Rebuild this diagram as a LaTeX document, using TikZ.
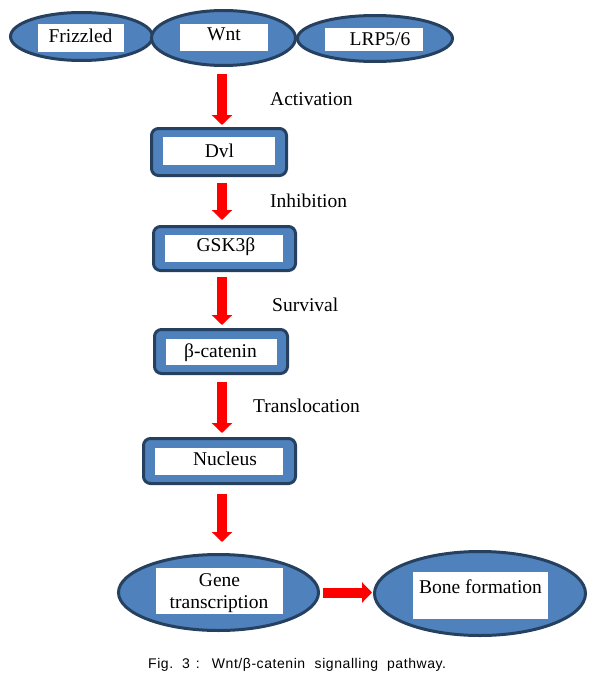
\documentclass[tikz,border=0pt]{standalone}
\usepackage{fontspec}
\setmainfont{Liberation Serif}
\newfontfamily\capfont[LetterSpace=4]{Liberation Sans}
\usetikzlibrary{shapes.geometric,arrows.meta}
\definecolor{fillblue}{HTML}{4F81BD}
\definecolor{edgeblue}{HTML}{26415F}
\tikzset{
  oval/.style={ellipse, draw=edgeblue, fill=fillblue, line width=3pt, inner sep=0pt, outer sep=0pt},
  roundbox/.style={rectangle, rounded corners=7pt, draw=edgeblue, fill=fillblue, line width=3pt, inner sep=0pt, outer sep=0pt},
  wbox/.style={rectangle, fill=white, draw=none, inner sep=0pt, outer sep=0pt},
  txt/.style={font=\fontsize{19.5}{22}\selectfont, inner sep=0pt, anchor=base},
  lbl/.style={font=\fontsize{19.5}{22}\selectfont, inner sep=0pt, anchor=base west},
  flow/.style={draw=red, line width=10pt, -{Triangle[width=20pt,length=10pt,fill=red]}}
}
\begin{document}
\begin{tikzpicture}[x=1pt,y=-1pt]
\useasboundingbox (0,0) rectangle (594,677);
\coordinate (ax) at (222,0);
% top ellipses
\node[oval, minimum width=142pt, minimum height=48pt] (fz) at (81.5,36.5) {};
\node[oval, minimum width=155pt, minimum height=46pt] (lrp) at (375,38.5) {};
\node[oval, minimum width=144pt, minimum height=55pt] (wnt) at (223.5,38) {};
\node[wbox, minimum width=86pt, minimum height=28pt] (fzw) at (81,38) {};
\node[wbox, minimum width=88pt, minimum height=27pt] (wntw) at (224,37.5) {};
\node[wbox, minimum width=98pt, minimum height=23pt] (lrpw) at (374,39.5) {};
\node[txt] (fzt) at (80.5,43) {Frizzled};
\node[txt] (wntt) at (224,41) {Wnt};
\node[txt] (lrpt) at (380,46) {LRP5/6};
% boxes
\node[roundbox, minimum width=135pt, minimum height=47pt] (dvl) at (219,152) {};
\node[wbox, minimum width=112pt, minimum height=28pt] (dvlw) at (219,151) {};
\node[txt] (dvlt) at (219.5,157) {Dvl};
\node[roundbox, minimum width=142pt, minimum height=44pt] (gsk) at (224.5,248.5) {};
\node[wbox, minimum width=118pt, minimum height=27pt] (gskw) at (224,248.5) {};
\node[txt] (gskt) at (226,251) {GSK3β};
\node[roundbox, minimum width=133pt, minimum height=44pt] (bcat) at (221,351.5) {};
\node[wbox, minimum width=111pt, minimum height=26pt] (bcatw) at (221.5,352) {};
\node[txt] (bcatt) at (220.5,357) {β-catenin};
\node[roundbox, minimum width=152pt, minimum height=45pt] (nuc) at (219.5,461) {};
\node[wbox, minimum width=128pt, minimum height=27pt] (nucw) at (219,461.5) {};
\node[txt] (nuct) at (225,465) {Nucleus};
% bottom ellipses
\node[oval, minimum width=200pt, minimum height=76pt] (gene) at (218.5,592.5) {};
\node[wbox, minimum width=127pt, minimum height=46pt] (genew) at (219.5,591) {};
\node[txt] (genet1) at (219.5,586) {Gene};
\node[txt] (genet2) at (219,608) {transcription};
\node[oval, minimum width=211pt, minimum height=84pt] (bone) at (480,593.5) {};
\node[wbox, minimum width=135pt, minimum height=47pt] (bonew) at (480.5,595.5) {};
\node[txt] (bonet) at (480.5,593.5) {Bone formation};
% labels
\node[lbl] (l1) at (270,105) {Activation};
\node[lbl] (l2) at (270,207) {Inhibition};
\node[lbl] (l3) at (272,311) {Survival};
\node[lbl] (l4) at (253,412) {Translocation};
% arrows
\draw[flow, shorten <=8.5pt, shorten >=3.5pt] (wnt.south -| ax) -- (dvl.north -| ax);
\draw[flow, shorten <=7.5pt, shorten >=6.5pt] (dvl.south -| ax) -- (gsk.north -| ax);
\draw[flow, shorten <=6.5pt, shorten >=4.5pt] (gsk.south -| ax) -- (bcat.north -| ax);
\draw[flow, shorten <=8.5pt, shorten >=5.5pt] (bcat.south -| ax) -- (nuc.north -| ax);
\draw[flow, shorten <=10.5pt, shorten >=12.5pt] (nuc.south -| ax) -- (gene.north -| ax);
\draw[flow, shorten <=4.5pt, shorten >=2.5pt] (gene.east) -- (bone.west |- gene.east);
% caption
\node[font=\capfont\fontsize{14}{16}\selectfont, inner sep=0pt, anchor=base west] (cap) at (148,668.5) {Fig.\hspace{9pt}3\hspace{6pt}:\hspace{12pt}Wnt/β-catenin\hspace{9.5pt}signalling\hspace{9pt}pathway.};
\end{tikzpicture}
\end{document}
